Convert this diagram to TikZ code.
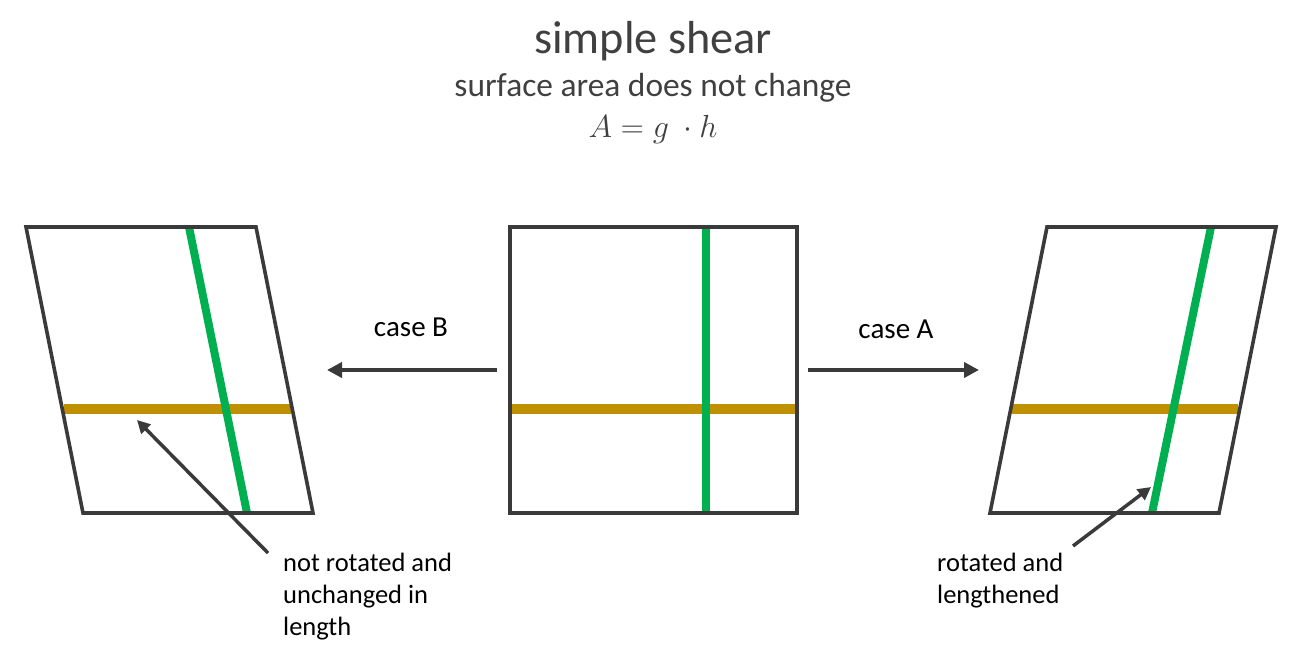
\RequirePackage{fix-cm}
\documentclass[tikz,border=0pt]{standalone}
\usepackage{fontspec}
\setmainfont{Carlito}
\usetikzlibrary{arrows.meta}
\definecolor{edge}{HTML}{3A3A3A}
\definecolor{titlegray}{HTML}{404040}
\definecolor{shgreen}{HTML}{00B050}
\definecolor{shgold}{HTML}{BF9000}
\begin{document}
\begin{tikzpicture}[x=1pt,y=-1pt,
  frame/.style={draw=edge,line width=3.6pt,line join=miter},
  greenline/.style={draw=shgreen,line width=8pt},
  goldline/.style={draw=shgold,line width=9.5pt},
  casearrow/.style={draw=edge,line width=4pt,-{Triangle[length=15pt,width=15pt]}},
  notearrow/.style={draw=edge,line width=3.5pt,-{Triangle[length=13pt,width=13pt]}},
  label/.style={font=\fontsize{26.5}{32}\selectfont,text=black,inner sep=0pt,align=left},
  caselabel/.style={font=\fontsize{29}{34}\selectfont,text=black,inner sep=0pt}]
\useasboundingbox (0,0) rectangle (1312,672);
% title
\node[anchor=base,inner sep=0pt,text=titlegray,font=\fontsize{46.3}{52}\selectfont] (title) at (653,53) {simple shear};
\node[anchor=base,inner sep=0pt,text=titlegray,font=\fontsize{33.4}{38}\selectfont] (subtitle) at (653,96) {surface area does not change};
\node[anchor=base,inner sep=0pt,text=titlegray,font=\fontsize{32}{38}\selectfont] (formula) at (653,137) {$A = g\ \cdot h$};
% center square
\coordinate (ctl) at (510,227); \coordinate (ctr) at (797,227);
\coordinate (cbr) at (797,513); \coordinate (cbl) at (510,513);
\draw[goldline] (510,409) -- (797,409);
\draw[greenline] (706,227) -- (706,513);
\draw[frame] (ctl) -- (ctr) -- (cbr) -- (cbl) -- cycle;
% left parallelogram (case B)
\coordinate (ltl) at (26,227); \coordinate (ltr) at (256,227);
\coordinate (lbr) at (313,513); \coordinate (lbl) at (83,513);
\draw[goldline] (64,409) -- (291,409);
\draw[greenline] (189,227) -- (247,513);
\draw[frame] (ltl) -- (ltr) -- (lbr) -- (lbl) -- cycle;
% right parallelogram (case A)
\coordinate (rtl) at (1047,227); \coordinate (rtr) at (1276,227);
\coordinate (rbr) at (1219,513); \coordinate (rbl) at (990,513);
\draw[goldline] (1012,409) -- (1238,409);
\draw[greenline] (1211,227) -- (1152,513);
\draw[frame] (rtl) -- (rtr) -- (rbr) -- (rbl) -- cycle;
% case arrows
\coordinate (bstart) at (497,370); \coordinate (bend) at (327,370);
\coordinate (astart) at (808,370); \coordinate (aend) at (979,370);
\draw[casearrow] (bstart) -- (bend);
\draw[casearrow] (astart) -- (aend);
\node[caselabel,anchor=base] (caseB) at (411,336) {case B};
\node[caselabel,anchor=base] (caseA) at (896,338) {case A};
% annotations
\node[label,anchor=north west] (noteB) at (283,553) {not rotated and\\unchanged in\\length};
\node[label,anchor=north west] (noteA) at (937,553) {rotated and\\lengthened};
\coordinate (gold) at (137,420);
\coordinate (green) at (1151,487);
\draw[notearrow] (268,553) -- (gold);
\draw[notearrow] (1073,546) -- (green);
\end{tikzpicture}
\end{document}
